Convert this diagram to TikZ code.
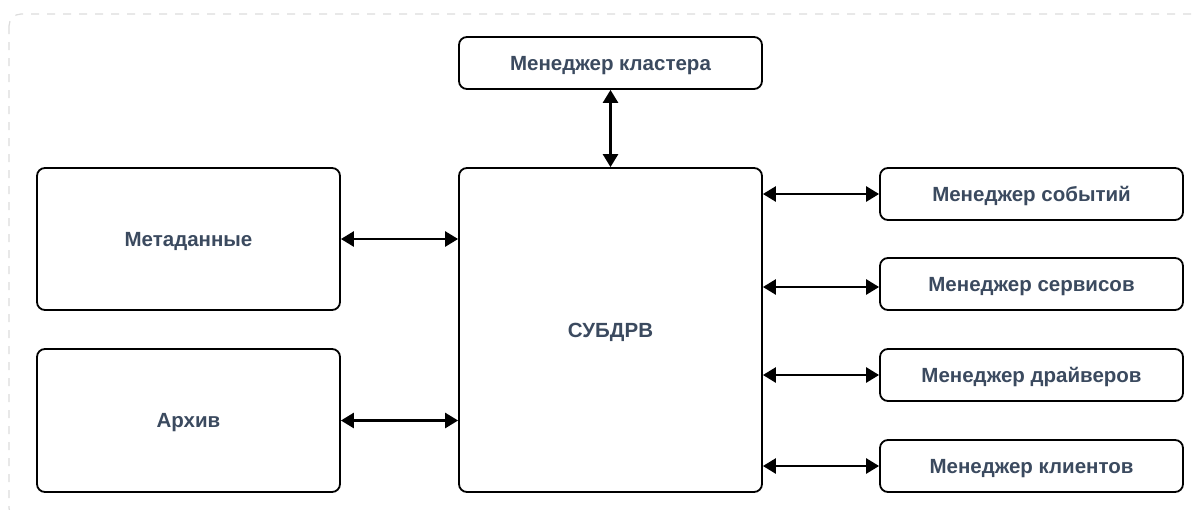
\documentclass[tikz,border=0pt]{standalone}
\usepackage{fontspec}
\setmainfont{Liberation Sans}
\usetikzlibrary{arrows.meta}
\definecolor{labeltext}{HTML}{3B4A5F}
\definecolor{framegray}{HTML}{DCDCDC}
\tikzset{
  box/.style={draw=black, line width=1.8pt, rounded corners=8pt, fill=white,
    inner sep=0pt, text height=14.7pt, text depth=0pt,
    font=\bfseries\fontsize{20.5}{24}\selectfont, text=labeltext},
  link/.style={line width=2.6pt, {Triangle[length=13pt,width=15pt]}-{Triangle[length=13pt,width=15pt]}},
}
\begin{document}
\begin{tikzpicture}[x=1pt, y=-1pt]
  \useasboundingbox (0,0) rectangle (1198,509);
  \begin{scope}
    \clip (0,0) rectangle (1198,509);
    \draw[framegray, line width=1.2pt, dash pattern=on 8pt off 8pt, rounded corners=12pt]
      (9,14) rectangle (1212,520);
  \end{scope}

  % boxes, placed by their centres
  \node[box, minimum width=303pt, minimum height=52pt] (cluster) at (610.5,63) {Менеджер кластера};
  \node[box, minimum width=303pt, minimum height=324pt] (core) at (610.5,330) {СУБДРВ};
  \node[box, minimum width=303pt, minimum height=142pt] (meta) at (188.5,239) {Метаданные};
  \node[box, minimum width=303pt, minimum height=143pt] (arch) at (188.5,420.5) {Архив};
  \node[box, minimum width=303pt, minimum height=52pt] (events) at (1031.5,194) {Менеджер событий};
  \node[box, minimum width=303pt, minimum height=52pt] (services) at (1031.5,284) {Менеджер сервисов};
  \node[box, minimum width=303pt, minimum height=52pt] (drivers) at (1031.5,375) {Менеджер драйверов};
  \node[box, minimum width=303pt, minimum height=52pt] (clients) at (1031.5,466) {Менеджер клиентов};

  % connectors
  \draw[link] (cluster.south) -- (core.north);
  \draw[link] (meta.east) -- (core.west |- meta.east);
  \draw[link] (arch.east) -- (core.west |- arch.east);
  \draw[link] (core.east |- events.west) -- (events.west);
  \draw[link] ([yshift=-3pt]core.east |- services.west) -- ([yshift=-3pt]services.west);
  \draw[link] (core.east |- drivers.west) -- (drivers.west);
  \draw[link] (core.east |- clients.west) -- (clients.west);
\end{tikzpicture}
\end{document}
